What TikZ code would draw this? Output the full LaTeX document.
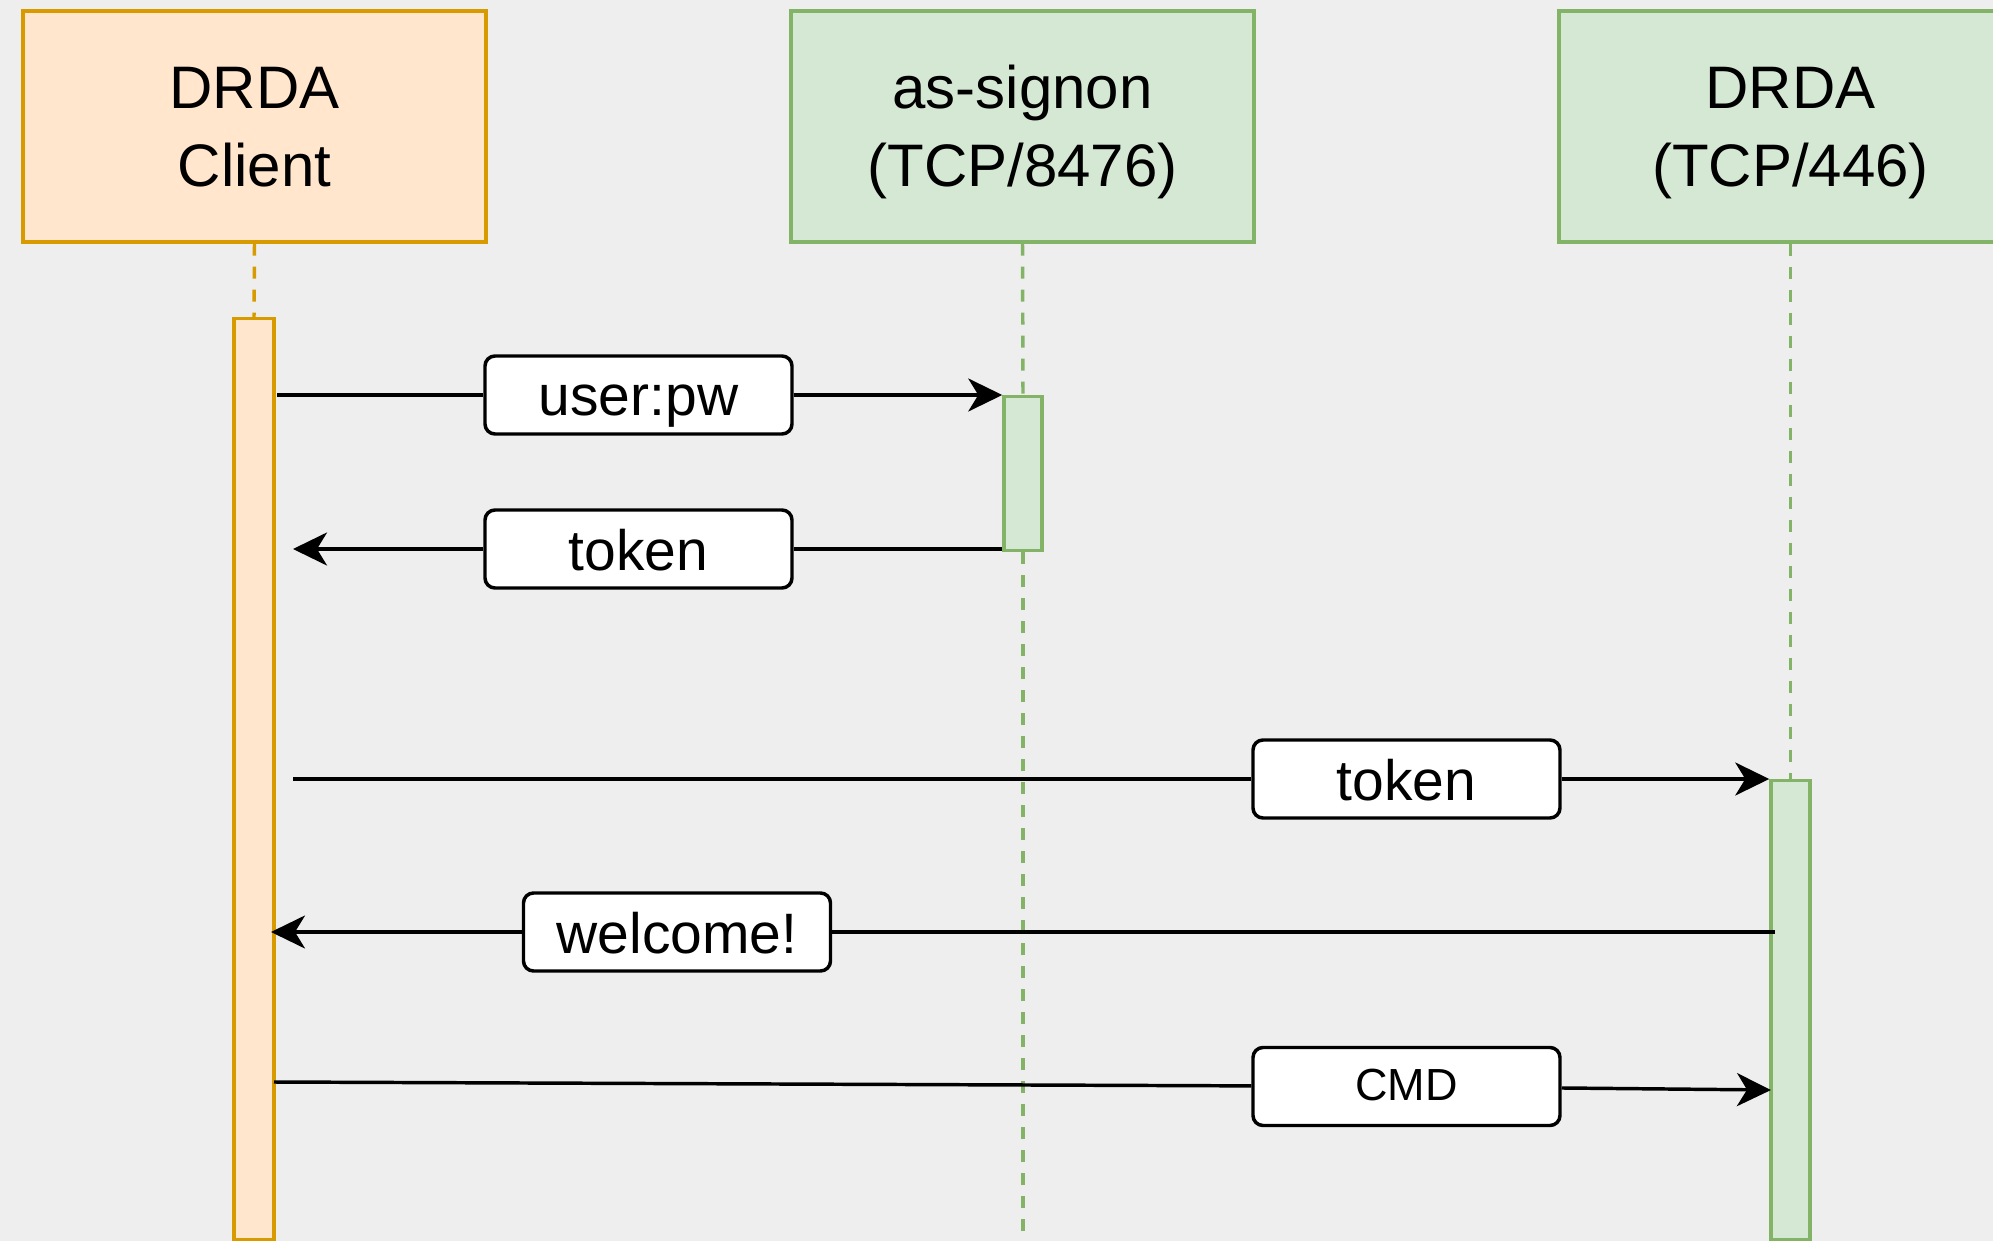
\documentclass[tikz,border=0pt]{standalone}
\usepackage{fontspec}
\setmainfont{Liberation Sans}
\usetikzlibrary{arrows.meta}
\definecolor{bg}{HTML}{EEEEEE}
\definecolor{ofill}{HTML}{FFE6CC}
\definecolor{ostroke}{HTML}{D79B00}
\definecolor{gfill}{HTML}{D5E8D4}
\definecolor{gstroke}{HTML}{82B366}
\newcommand{\myTopStrut}{\rule{0pt}{42.5pt}}
\newcommand{\myBotStrut}{\rule[-10.25pt]{0pt}{10.25pt}}
\begin{document}
\begin{tikzpicture}[x=0.75pt,y=-0.75pt,
  header/.style={draw, line width=2.6pt, minimum width=347.25pt, minimum height=173.25pt,
    align=center, inner sep=0pt, font=\fontsize{45pt}{58.5pt}\selectfont},
  clientbox/.style={header, fill=ofill, draw=ostroke},
  serverbox/.style={header, fill=gfill, draw=gstroke},
  actbar/.style={draw, line width=2.6pt, inner sep=0pt, anchor=north},
  lifeline/.style={line width=2.6pt, dash pattern=on 9pt off 8.25pt},
  msg/.style={draw=black, line width=2.6pt},
  tip/.style={-{Stealth[length=25.5pt, width=24.75pt, inset=7.5pt]}},
  lab/.style={draw=black, fill=white, line width=2.6pt, rounded corners=7.5pt,
    minimum width=230.25pt, minimum height=58.5pt, inner sep=0pt,
    text height=31.5pt, text depth=0pt,
    font=\fontsize{42.75pt}{50pt}\selectfont},
  smalllab/.style={lab, text height=20.25pt, font=\fontsize{33.75pt}{40pt}\selectfont}
]
\useasboundingbox (0,0) rectangle (1993,1241);
\fill[bg] (0,0) rectangle (1993,1241);

% headers
\node[clientbox] (client) at (254.5,126.5) {\myTopStrut DRDA\\Client\myBotStrut};
\node[serverbox] (signon) at (1022.5,126.5) {\myTopStrut as-signon\\(TCP/8476)\myBotStrut};
\node[serverbox] (drda) at (1790.5,126.5) {\myTopStrut DRDA\\(TCP/446)\myBotStrut};

% activation bars
\node[actbar, fill=ofill, draw=ostroke, minimum width=30pt, minimum height=690.75pt] (cbar) at (254,317) {};
\node[actbar, fill=gfill, draw=gstroke, minimum width=28.5pt, minimum height=115.5pt] (sbar) at (1023,395) {};
\node[actbar, fill=gfill, draw=gstroke, minimum width=29.25pt, minimum height=344.25pt] (dbar) at (1790.5,779) {};

% lifelines
\coordinate (send) at (1023,1250);
\draw[lifeline, draw=ostroke] (client.south) -- (cbar.north);
\draw[lifeline, draw=gstroke] (signon.south) -- (sbar.north);
\draw[lifeline, draw=gstroke] (sbar.south) -- (send);
\draw[lifeline, draw=gstroke] (drda.south) -- (dbar.north);

% message end points
\coordinate (m1s) at (277,395);
\coordinate (m2e) at (293,549);
\coordinate (m3s) at (293,779);
\coordinate (m4s) at (1775,932);
\coordinate (m4e) at (271,932);
\coordinate (m5s) at (274,1082);
\coordinate (m5e) at (1771,1090);

% labels
\node[lab] (l1) at (638.5,395) {user:pw};
\node[lab] (l2) at (638.5,549) {token};
\node[lab] (l3) at (1406.5,779) {token};
\node[lab] (l4) at (677,932) {welcome!};
\node[smalllab] (l5) at (1406.5,1086.5) {CMD};

% messages
\draw[msg] (m1s) -- (l1);
\draw[msg, tip] (l1) -- (sbar.west |- l1);
\draw[msg] (sbar.west |- l2) -- (l2);
\draw[msg, tip] (l2) -- (m2e);
\draw[msg] (m3s) -- (l3);
\draw[msg, tip] (l3) -- (dbar.west |- l3);
\draw[msg] (m4s) -- (l4);
\draw[msg, tip] (l4) -- (m4e);
\draw[msg] (m5s) -- (l5);
\draw[msg, tip] (l5) -- (m5e);
\end{tikzpicture}
\end{document}
